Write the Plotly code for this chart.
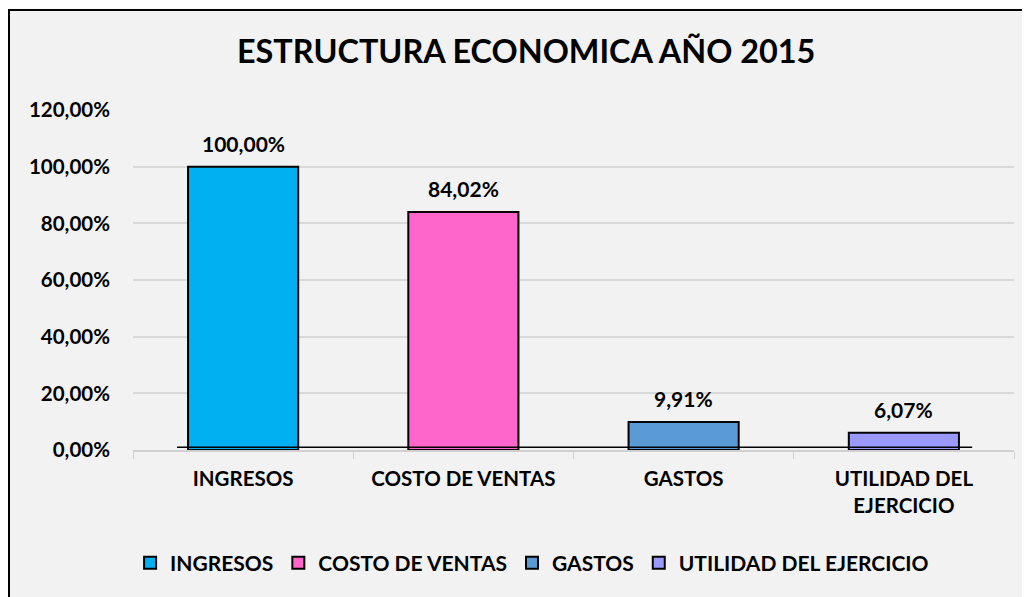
import plotly.graph_objects as go

categories = ["INGRESOS", "COSTO DE VENTAS", "GASTOS", "UTILIDAD DEL EJERCICIO"]
axis_labels = ["INGRESOS", "COSTO DE VENTAS", "GASTOS", "UTILIDAD DEL<br>EJERCICIO"]
values = [1.0, 0.8402, 0.0991, 0.0607]
colors = ["#00b0f0", "#ff66cc", "#5b9bd5", "#9999ff"]
tick_vals = [0, 0.2, 0.4, 0.6, 0.8, 1.0, 1.2]

FONT = "Lato"
OFF = 8  # page body margin
W, H = 1030 - OFF, 597 - OFF
ml, mr, mt, mb = 133 - OFF, 16, 110 - OFF, 147
pw, ph = W - ml - mr, H - mt - mb

fig = go.Figure()
for lab, v, c, name in zip(axis_labels, values, colors, categories):
    fig.add_trace(go.Bar(
        x=[lab], y=[v], name=name, width=0.5,
        marker=dict(color=c, line=dict(color="black", width=2)),
        cliponaxis=False,
    ))
    fig.add_annotation(x=lab, y=v, xref="x", yref="y", text=f"{v * 100:.2f}%".replace(".", ","),
                       showarrow=False, yanchor="bottom", yshift=9,
                       font=dict(family=FONT, size=21, color="black", weight="bold"))

# black baseline line across bars
fig.add_shape(type="line", xref="x", yref="y", x0=-0.3, x1=3.31, y0=0.01, y1=0.01,
              line=dict(color="black", width=1.5), layer="above")

# chart frame
fig.add_shape(type="rect", xref="paper", yref="paper",
              x0=(9 - OFF - ml) / pw, x1=(W + 20 - ml) / pw,
              y0=-(mb + 20) / ph, y1=(H - mb - (10 - OFF)) / ph,
              line=dict(color="black", width=2), fillcolor="#f2f2f2", layer="below")

fig.update_layout(
    width=W, height=H,
    margin=dict(l=ml, r=mr, t=mt, b=mb, autoexpand=False),
    paper_bgcolor="white", plot_bgcolor="#f2f2f2",
    separators=",.",
    barmode="overlay",
    title=dict(text="<b>ESTRUCTURA ECONOMICA AÑO 2015</b>", x=0.507, xanchor="center",
               y=1 - (52 - OFF) / H, yanchor="middle",
               font=dict(family=FONT, size=32.4, color="black")),
    font=dict(family=FONT, size=20, color="black", weight="bold"),
    xaxis=dict(showline=True, linecolor="#d0d0d0", linewidth=1.5,
               ticks="outside", tickson="boundaries", ticklen=7, tickcolor="#d0d0d0",
               ticklabelstandoff=10,
               tickfont=dict(family=FONT, size=20.5, color="black", weight="bold"),
               showgrid=False),
    yaxis=dict(range=[0, 1.2], tickvals=tick_vals, tickformat=".2%",
               showgrid=True, gridcolor="#d9d9d9", gridwidth=1.5,
               zeroline=False, showline=False, ticks="", ticklabelstandoff=22,
               tickfont=dict(family=FONT, size=20.5, color="black", weight="bold")),
    legend=dict(orientation="h", x=0.453, xanchor="center",
                y=(442 - OFF - (555 - OFF)) / ph, yanchor="middle",
                font=dict(family=FONT, size=21, color="black", weight="bold"),
                bgcolor="rgba(0,0,0,0)", itemwidth=30, tracegroupgap=0),
    showlegend=True,
)

fig.write_html("out.html")
